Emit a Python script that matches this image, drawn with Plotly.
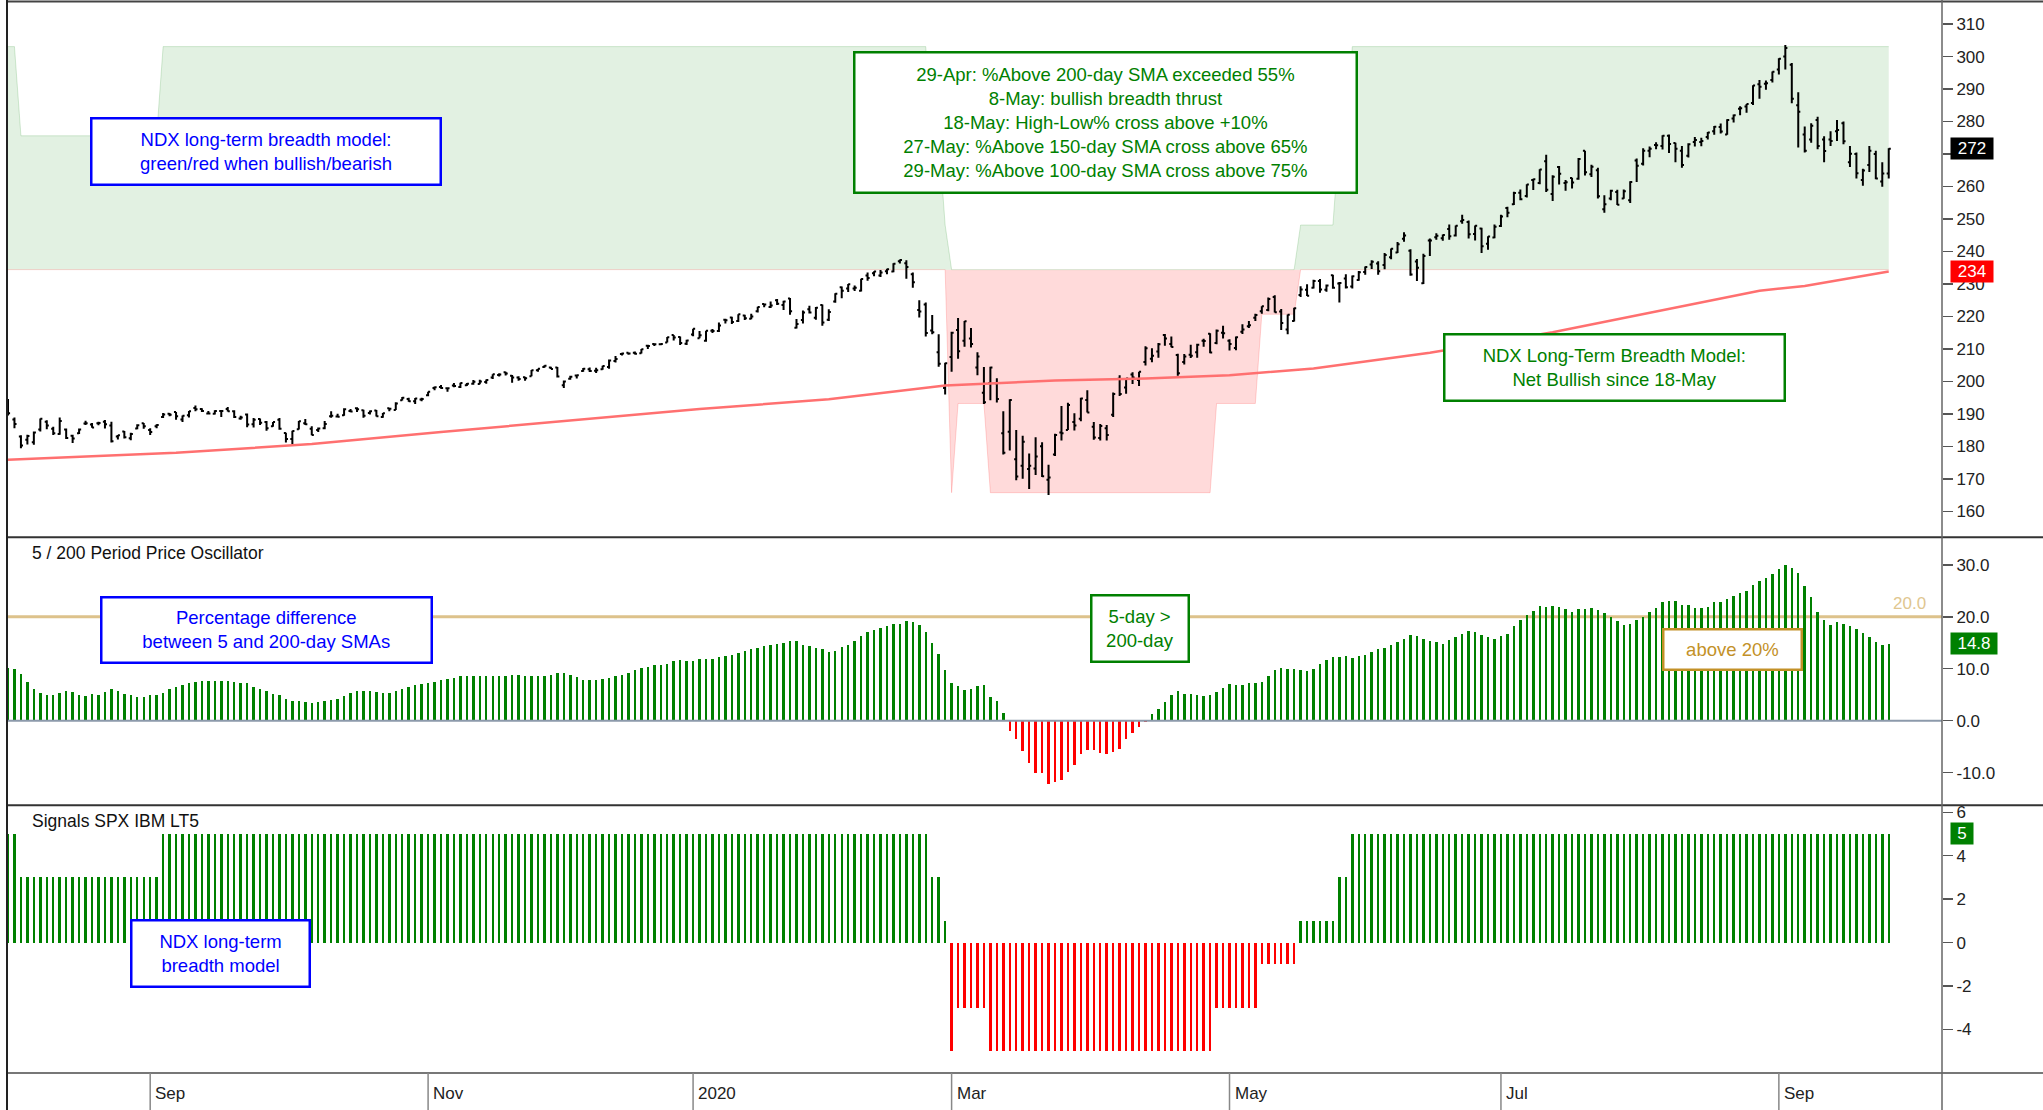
import pandas as pd
import plotly.graph_objects as go

# ---------------- DATA ----------------
START = "2019-08-01"
END = "2020-09-25"
HOLIDAYS = ["2019-09-02", "2019-11-28", "2019-12-25", "2020-01-01", "2020-01-20",
            "2020-02-17", "2020-04-10", "2020-05-25", "2020-07-03", "2020-09-07"]

OPEN = [
    # Aug 2019
    192.0,188.3,183.0,182.0,181.3,185.2,187.6,185.4,183.8,185.2,183.3,184.0,187.0,186.7,187.1,187.6,186.4,183.0,184.6,182.5,185.5,187.1,
    # Sep
    185.0,186.2,189.0,190.0,190.6,188.3,189.6,191.8,191.5,190.1,190.0,190.9,191.5,190.8,188.6,189.8,186.8,188.4,187.5,186.2,
    # Oct
    188.2,184.1,182.3,185.3,187.1,185.4,185.0,185.6,189.3,189.2,189.6,190.9,191.7,191.1,190.3,191.0,189.0,191.7,191.2,194.2,194.6,193.9,194.4,
    # Nov
    195.7,198.0,198.3,197.9,198.7,198.3,198.8,199.3,199.2,199.8,201.2,202.0,202.8,201.7,201.2,201.3,201.6,203.4,204.4,204.3,
    # Dec
    204.3,198.8,200.8,201.8,203.2,203.7,203.3,203.7,204.4,206.3,208.4,208.8,208.8,208.7,211.0,211.5,211.4,212.0,214.3,213.7,211.6,
    # Jan 2020
    214.4,213.3,212.5,215.6,215.5,219.0,219.7,218.6,220.3,219.3,221.6,223.8,222.9,225.0,223.5,225.5,216.5,218.9,222.2,219.6,223.5,
    # Feb
    219.0,224.6,229.0,228.6,228.6,227.9,232.6,233.3,232.6,233.9,233.8,237.0,236.4,233.0,222.0,223.7,215.7,209.0,198.0,
    # Mar
    207.5,215.8,212.5,213.2,204.3,196.5,199.5,199.4,184.0,184.5,176.0,174.0,173.0,173.2,180.0,169.7,177.5,184.3,185.0,187.5,188.5,194.3,
    # Apr
    186.0,182.6,185.6,189.7,200.8,198.1,202.1,200.4,206.0,207.0,209.2,214.3,211.5,208.1,206.0,208.2,209.0,212.5,214.7,211.8,215.0,
    # May
    212.5,210.3,215.3,217.0,219.6,221.6,222.0,226.0,221.5,216.0,218.6,226.6,228.2,228.8,230.9,228.2,232.7,230.1,231.7,229.2,
    # Jun
    231.2,233.7,236.0,236.3,235.8,238.2,239.7,243.9,240.2,236.9,230.2,243.4,244.4,244.1,246.9,244.9,249.3,249.1,245.4,247.1,242.4,244.3,
    # Jul
    247.8,253.4,254.5,258.1,257.1,262.0,261.1,267.8,257.7,266.0,261.1,262.6,262.4,271.0,263.8,265.0,253.0,256.3,258.3,256.3,255.8,268.0,
    # Aug
    267.0,271.0,272.8,272.5,275.6,273.4,271.0,269.5,273.7,273.7,275.2,277.0,278.3,276.0,280.9,283.9,284.6,285.7,291.5,291.6,292.8,
    # Sep
    296.0,300.0,297.5,285.0,276.0,274.5,280.5,274.5,274.5,277.0,279.5,267.5,270.0,262.0,266.6,270.0,261.5,264.0,
]
HIGH = [
    194.6,188.9,183.4,183.6,184.6,188.6,188.0,186.0,188.9,185.5,183.6,185.5,187.9,187.2,187.6,188.1,187.6,183.5,184.7,184.2,186.8,187.2,
    185.6,186.8,190.3,190.3,190.6,189.5,190.9,192.6,191.7,190.9,191.1,191.2,192.1,191.1,189.4,190.1,188.7,188.6,187.8,187.5,
    188.7,184.2,184.8,187.8,188.4,186.2,185.8,187.8,190.8,190.0,191.7,191.5,192.0,191.3,191.0,191.2,190.3,191.8,193.6,195.2,195.0,194.9,195.0,
    196.8,198.4,198.9,198.1,199.5,199.6,199.5,200.4,200.5,200.6,202.2,202.5,203.0,202.0,201.6,201.4,203.5,203.9,205.0,204.5,
    204.4,200.3,201.7,202.1,204.1,204.3,204.2,204.8,206.7,207.8,208.8,208.9,209.2,210.0,211.3,211.6,211.6,213.7,214.3,213.8,212.8,
    216.2,215.5,215.6,216.1,218.1,219.3,219.9,220.7,220.5,220.8,223.0,223.9,224.6,225.4,224.8,225.7,219.2,221.8,223.3,222.9,223.7,
    222.2,227.1,229.2,230.0,229.5,231.6,233.5,233.9,234.3,234.7,236.4,237.5,237.3,233.5,225.0,224.3,220.4,214.5,205.7,
    215.3,219.5,218.6,216.4,209.0,204.4,204.5,201.0,190.8,194.5,185.0,183.3,177.8,182.8,181.3,174.3,183.9,192.4,193.4,190.2,195.0,197.3,
    187.5,186.9,186.6,196.6,201.9,201.0,202.8,203.0,210.8,210.2,211.8,214.6,213.8,208.5,208.4,211.3,211.6,213.1,214.8,216.0,217.1,
    213.0,213.8,217.6,218.6,220.8,223.1,225.8,226.5,222.3,220.6,222.7,229.3,229.9,231.3,231.5,229.8,232.8,230.6,233.0,232.6,
    234.0,235.4,237.3,237.0,239.5,240.9,242.9,245.9,240.7,237.7,239.3,244.0,245.6,245.2,248.3,248.0,251.3,249.5,248.0,247.3,244.7,248.3,
    251.3,253.8,258.4,259.1,260.7,262.4,265.3,269.8,263.5,266.3,262.0,262.7,268.8,271.0,266.7,265.8,257.3,259.0,259.0,259.1,261.6,268.6,
    271.8,272.3,273.6,275.8,276.0,273.5,272.5,273.3,275.2,275.0,276.8,278.6,279.4,280.7,282.2,284.7,285.4,291.2,292.8,292.6,295.4,
    299.5,303.6,298.0,289.0,278.5,279.5,281.5,275.5,277.0,280.5,280.0,272.5,270.5,265.5,272.5,271.0,267.5,271.8,
]
LOW = [
    189.5,185.6,179.4,180.6,180.5,184.6,185.3,183.5,183.6,182.3,181.0,183.8,186.6,185.7,186.5,185.5,181.2,182.1,182.4,181.9,185.3,185.4,
    183.5,185.6,188.7,189.3,188.2,187.5,188.9,190.8,190.6,189.8,189.8,189.0,190.7,188.7,188.2,185.9,185.8,186.6,184.8,186.0,
    185.1,181.2,180.6,185.2,186.6,183.4,184.4,185.3,188.8,188.9,189.4,190.5,190.6,188.8,189.8,189.2,188.8,190.8,191.2,194.1,193.7,193.0,193.9,
    195.4,197.3,197.7,196.8,198.2,198.0,198.6,199.0,199.1,199.3,200.7,201.5,201.8,199.6,200.2,200.2,201.6,203.0,204.2,203.8,
    201.2,198.0,200.5,200.9,203.0,202.9,202.6,203.6,203.9,205.8,208.0,208.2,208.3,208.6,210.0,210.9,211.1,212.0,212.6,211.2,211.2,
    213.9,213.3,212.2,214.9,215.2,217.8,217.7,218.3,218.9,219.1,221.2,222.8,222.6,223.5,222.0,220.5,216.3,217.8,220.9,219.0,217.1,
    218.6,224.2,225.6,227.5,227.8,227.7,231.0,232.4,232.1,233.0,233.6,236.3,231.6,228.8,219.7,213.8,214.5,204.5,196.0,
    203.0,207.0,210.7,210.4,201.9,193.0,194.2,193.5,177.5,178.7,169.6,170.0,166.9,171.2,170.6,165.0,177.0,181.8,185.0,184.9,187.7,190.4,
    182.0,181.8,181.8,189.0,195.5,196.2,199.2,198.6,204.9,205.9,207.3,211.0,210.5,201.7,205.2,207.2,207.3,210.7,208.7,211.4,213.2,
    209.5,209.6,214.6,216.4,218.6,220.8,221.6,221.2,215.8,214.5,218.4,226.0,226.3,228.6,227.3,227.6,228.5,224.3,228.6,228.6,
    231.0,232.8,234.6,232.8,234.5,237.6,239.5,243.0,232.5,230.9,230.0,238.6,243.6,243.3,243.6,244.6,248.5,244.0,243.4,239.5,240.5,244.1,
    247.5,250.5,254.3,255.8,256.6,258.9,260.7,258.3,255.5,260.6,258.7,259.4,262.1,263.4,262.9,256.3,251.9,255.8,254.3,256.2,254.9,261.4,
    266.5,269.0,271.5,271.4,270.3,267.5,265.8,268.9,272.3,272.4,274.5,275.9,276.3,275.9,279.7,281.9,282.7,285.1,287.0,289.8,292.0,
    294.5,296.0,285.6,272.0,270.5,273.5,271.5,267.5,272.5,274.0,273.0,266.0,262.5,260.2,264.5,262.2,259.9,262.5,
]
CLOSE = [
    190.2,186.9,180.3,183.2,184.3,188.5,186.4,184.0,187.8,182.6,182.4,185.2,187.1,185.8,187.2,186.8,181.6,183.4,182.8,183.8,186.5,186.2,
    184.4,186.6,189.8,189.7,189.3,189.4,190.8,191.4,190.9,190.1,190.9,190.9,190.8,189.0,188.9,186.7,188.2,187.3,185.6,187.5,
    185.4,182.3,184.7,187.7,186.8,183.5,185.5,186.9,189.4,189.1,191.4,190.7,191.4,189.4,190.8,189.3,190.2,191.6,193.2,195.0,193.9,194.7,194.6,
    196.8,198.2,198.0,197.9,198.6,199.5,199.3,199.9,200.0,200.4,202.2,202.1,202.4,201.2,200.7,201.0,203.4,203.9,204.8,203.8,
    201.5,200.0,201.4,201.9,203.9,203.2,203.4,204.7,206.4,206.9,208.6,208.6,208.5,209.9,210.9,211.4,211.5,213.6,213.5,211.8,212.6,
    216.2,214.2,215.6,215.5,217.2,218.8,218.3,220.7,219.4,220.0,222.9,223.7,223.4,223.9,224.6,221.6,217.7,221.2,221.2,222.7,218.1,
    221.4,227.0,227.9,229.9,228.8,231.5,231.8,233.8,233.5,234.5,236.2,237.4,235.2,230.5,221.5,214.9,215.1,205.4,205.6,
    215.0,209.3,218.5,211.5,207.7,193.6,204.3,194.6,178.0,194.3,170.7,181.4,174.0,176.9,170.8,170.4,183.5,184.0,192.7,186.4,194.7,190.4,
    182.7,186.3,183.5,196.1,196.1,200.9,201.2,203.0,210.2,207.9,211.4,213.2,210.6,202.5,207.7,207.9,211.3,212.4,208.9,215.6,214.8,
    211.5,213.6,216.0,217.3,220.4,223.1,225.4,221.3,218.0,220.5,222.5,228.3,226.4,230.9,228.3,229.5,228.8,230.3,229.0,232.4,
    233.6,235.2,236.8,233.9,238.9,240.8,242.2,244.9,232.9,235.0,238.6,243.4,244.8,245.1,244.7,247.9,249.7,245.3,247.9,241.6,244.6,247.6,
    250.8,251.9,258.0,256.1,260.6,262.2,265.2,259.0,263.0,263.9,261.3,261.2,268.5,264.4,266.1,257.0,254.5,258.7,254.4,258.5,261.4,266.4,
    271.0,271.6,272.7,275.6,273.1,271.6,266.6,273.0,274.3,274.0,276.6,278.4,276.9,280.5,281.9,284.1,285.4,291.1,290.7,291.8,295.3,
    299.3,302.6,287.0,283.0,271.0,278.7,272.5,270.9,274.0,277.4,273.9,270.1,264.1,264.9,271.0,262.5,264.0,271.6,
]

# 200-day SMA read at selected dates
SMA_DATES = ["2019-08-01", "2019-09-09", "2019-10-08", "2019-11-05", "2020-01-03", "2020-02-03",
             "2020-02-28", "2020-03-24", "2020-04-14", "2020-05-01", "2020-05-20", "2020-06-08",
             "2020-06-16", "2020-07-14", "2020-08-10", "2020-08-27", "2020-09-08", "2020-09-25"]
SMA_VALUES = [175.9, 178.0, 180.7, 184.4, 191.5, 194.5, 198.7, 200.3, 200.9, 201.9, 204.0, 207.2,
              208.8, 215.1, 222.6, 227.9, 229.4, 233.8]

# 5/200 price oscillator (%)
PPO = [
    10.2, 9.9, 9.0, 7.4, 6.1, 5.3, 5.0, 4.9, 5.3, 5.7,
    5.6, 4.9, 4.7, 5.1, 5.0, 5.5, 6.1, 5.7, 5.2, 4.9,
    4.5, 4.5, 4.9, 5.0, 5.4, 6.1, 6.5, 6.8, 7.2, 7.5,
    7.6, 7.6, 7.7, 7.7, 7.7, 7.5, 7.3, 7.2, 6.5, 6.1,
    5.7, 5.2, 4.9, 4.1, 3.7, 3.7, 3.5, 3.4, 3.6, 3.8,
    3.9, 4.1, 4.8, 5.3, 5.7, 5.8, 5.7, 5.5, 5.4, 5.4,
    5.7, 6.1, 6.5, 6.8, 7.0, 7.2, 7.5, 7.8, 8.1, 8.3,
    8.5, 8.5, 8.5, 8.5, 8.6,
    8.5, 8.5, 8.6, 8.8, 8.7, 8.6, 8.5, 8.5, 8.5, 8.8,
    9.1, 9.1, 8.7, 8.4, 7.9, 7.9, 7.9, 8.1, 8.3, 8.6,
    8.7, 9.2, 9.7, 10.1, 10.4, 10.7, 10.8, 11.0, 11.4, 11.6,
    11.5, 11.5, 11.9, 11.9, 11.9, 12.2, 12.5, 12.7, 13.0, 13.5,
    13.8, 14.0, 14.3, 14.6, 14.7, 15.0, 15.4, 15.3, 14.6, 14.3,
    14.0, 13.7, 13.2, 13.5, 14.1, 14.6, 15.3, 16.2, 17.1, 17.4,
    17.9, 18.2, 18.6, 18.7, 19.1, 19.0, 18.5, 17.0, 15.0, 12.8,
    9.8, 7.2, 6.6, 5.9, 6.0, 6.6,
    6.8, 4.5, 3.8, 1.4,
    -1.9, -3.5, -5.9, -8.2, -10.1, -10.1, -12.2, -11.9, -11.4, -9.9, -8.5,
    -6.4, -5.6, -5.7, -6.2, -6.4, -6.0, -5.5, -3.6, -2.3, -1.2, -0.2,
    1.2, 2.3, 3.5, 5.0, 5.8, 5.2, 5.2, 4.9, 4.7, 4.9,
    5.5, 6.3, 7.0, 6.9, 6.8, 7.3, 7.3, 7.5, 8.6, 9.7,
    10.1, 10.0, 9.9, 9.7, 9.6, 10.0, 11.0, 11.6, 12.2, 12.2,
    12.4, 12.1, 12.4, 12.6, 13.2, 13.7, 14.0, 14.6, 15.1, 15.7,
    16.5, 16.3, 15.7, 15.4, 15.2, 14.7, 15.5, 16.1, 16.7, 17.2,
    17.0, 16.5, 16.1, 15.7, 16.3, 16.6, 18.2, 19.4, 20.3, 21.2,
    22.1, 21.9, 22.1, 21.9, 21.5, 20.9, 21.4, 21.5, 21.7, 21.3,
    20.8, 19.9, 19.2, 18.5, 18.6, 19.3, 19.9, 21.0, 21.7, 22.8,
    23.0, 23.0, 22.3, 22.2, 21.7, 21.6, 21.8, 22.8, 22.9, 23.4,
    24.0, 24.6, 25.0, 26.2, 26.9, 27.5, 28.3, 29.2, 29.9, 29.4,
    28.4, 26.0, 23.8, 21.0, 19.4, 18.4, 19.0, 18.6, 18.3, 17.7,
    16.9, 16.1, 15.2, 14.6, 14.8,
]
PPO_THRESHOLD = 20

# Signals SPX IBM LT5 (breadth model score)
SIGNAL = [
    # Aug 2019
    5, 5, 3, 3, 3, 3, 3, 3, 3, 3, 3, 3, 3, 3, 3, 3, 3, 3, 3, 3, 3, 3,
    # Sep
    3, 3, 5, 5, 5, 5, 5, 5, 5, 5, 5, 5, 5, 5, 5, 5, 5, 5, 5, 5,
    # Oct
    5, 5, 5, 5, 5, 5, 5, 5, 5, 5, 5, 5, 5, 5, 5, 5, 5, 5, 5, 5, 5, 5, 5,
    # Nov
    5, 5, 5, 5, 5, 5, 5, 5, 5, 5, 5, 5, 5, 5, 5, 5, 5, 5, 5, 5,
    # Dec
    5, 5, 5, 5, 5, 5, 5, 5, 5, 5, 5, 5, 5, 5, 5, 5, 5, 5, 5, 5, 5,
    # Jan 2020
    5, 5, 5, 5, 5, 5, 5, 5, 5, 5, 5, 5, 5, 5, 5, 5, 5, 5, 5, 5, 5,
    # Feb
    5, 5, 5, 5, 5, 5, 5, 5, 5, 5, 5, 5, 5, 5, 5, 5, 3, 3, 1,
    # Mar
    -5, -3, -3, -3, -3, -3, -5, -5, -5, -5, -5, -5, -5, -5, -5, -5, -5, -5, -5, -5, -5, -5,
    # Apr
    -5, -5, -5, -5, -5, -5, -5, -5, -5, -5, -5, -5, -5, -5, -5, -5, -5, -5, -5, -3, -3,
    # May
    -3, -3, -3, -3, -3, -1, -1, -1, -1, -1, -1, 1, 1, 1, 1, 1, 1, 3, 3, 5,
    # Jun
    5, 5, 5, 5, 5, 5, 5, 5, 5, 5, 5, 5, 5, 5, 5, 5, 5, 5, 5, 5, 5, 5,
    # Jul
    5, 5, 5, 5, 5, 5, 5, 5, 5, 5, 5, 5, 5, 5, 5, 5, 5, 5, 5, 5, 5, 5,
    # Aug
    5, 5, 5, 5, 5, 5, 5, 5, 5, 5, 5, 5, 5, 5, 5, 5, 5, 5, 5, 5, 5,
    # Sep
    5, 5, 5, 5, 5, 5, 5, 5, 5, 5, 5, 5, 5, 5, 5, 5, 5, 5,
]

TICK_MONTHS = ["2019-09", "2019-11", "2020-01", "2020-03", "2020-05", "2020-07", "2020-09"]
TICK_LABELS = ["Sep", "Nov", "2020", "Mar", "May", "Jul", "Sep"]
PRICE_TICKS = [160, 170, 180, 190, 200, 210, 220, 230, 240, 250, 260, 270, 280, 290, 300, 310]
PRICE_TICK_TEXT = ["160", "170", "180", "190", "200", "210", "220", "230", "240", "250",
                   "260", "", "280", "290", "300", "310"]   # 270 hidden under the last-price badge
PPO_TICKS = [-10, 0, 10, 20, 30]
PPO_TICK_TEXT = ["-10.0", "0.0", "10.0", "20.0", "30.0"]
SIG_TICKS = [-4, -2, 0, 2, 4, 6]
SIG_TICK_TEXT = ["-4", "-2", "0", "2", "4", "6"]

# ---------------- BUILD ----------------
dates = pd.bdate_range(START, END)
dates = dates[~dates.isin(pd.to_datetime(HOLIDAYS))]
N = len(dates)
for name, arr in [("OPEN", OPEN), ("HIGH", HIGH), ("LOW", LOW), ("CLOSE", CLOSE),
                  ("PPO", PPO), ("SIGNAL", SIGNAL)]:
    assert len(arr) == N, (name, len(arr), N)
idx = list(range(N))
pos = {d.strftime("%Y-%m-%d"): i for i, d in enumerate(dates)}

FONT = "Liberation Sans, Arial, sans-serif"
FIG_W, FIG_H = 2043, 1110
L, R, T, B = 7, 101, 2, 37
PW = FIG_W - L - R
PH = FIG_H - T - B


def px_x(px):
    return (px - L) / PW


def px_y(py):
    return (FIG_H - B - py) / PH


TOP_SPLIT = px_y(537.3)
MID_SPLIT = px_y(805.3)
X_LEFT = -0.155
X_RIGHT = X_LEFT + PW / 6.463

GREEN = "#008000"
RED = "#FF0000"
BLUE = "#0000FF"
GOLD = "#C39128"

fig = go.Figure()

# breadth model band behind price (overlay scale -6..6)
fig.add_trace(go.Scatter(
    x=idx, y=[s if s > 0 else 0 for s in SIGNAL], yaxis="y", mode="lines",
    line=dict(color="rgba(0,128,0,0.16)", width=1), fill="tozeroy",
    fillcolor="rgba(0,128,0,0.115)", hoverinfo="skip", showlegend=False))
fig.add_trace(go.Scatter(
    x=idx, y=[s if s < 0 else 0 for s in SIGNAL], yaxis="y", mode="lines",
    line=dict(color="rgba(255,0,0,0.16)", width=1), fill="tozeroy",
    fillcolor="rgba(255,0,0,0.145)", hoverinfo="skip", showlegend=False))

# 200-day SMA
fig.add_trace(go.Scatter(
    x=[pos[d] for d in SMA_DATES], y=SMA_VALUES, yaxis="y4", mode="lines",
    line=dict(color="#FF7070", width=2.5), hoverinfo="skip", showlegend=False))

# price bars
fig.add_trace(go.Ohlc(
    x=idx, open=OPEN, high=HIGH, low=LOW, close=CLOSE, yaxis="y4",
    increasing=dict(line=dict(color="#000000", width=2)),
    decreasing=dict(line=dict(color="#000000", width=2)),
    tickwidth=0.32, hoverinfo="skip", showlegend=False))

# oscillator histogram
fig.add_trace(go.Bar(
    x=idx, y=PPO, yaxis="y2", width=0.38,
    marker=dict(color=[GREEN if v >= 0 else RED for v in PPO], line=dict(width=0)),
    hoverinfo="skip", showlegend=False))

# signals histogram
fig.add_trace(go.Bar(
    x=idx, y=SIGNAL, yaxis="y3", width=0.38,
    marker=dict(color=[GREEN if v >= 0 else RED for v in SIGNAL], line=dict(width=0)),
    hoverinfo="skip", showlegend=False))

axis_common = dict(side="right", anchor="x", showgrid=False, zeroline=False,
                   ticks="outside", ticklen=10, tickwidth=1.5, tickcolor="#555",
                   showline=False, automargin=False,
                   tickfont=dict(family=FONT, size=17, color="#222"))

fig.update_layout(
    width=FIG_W, height=FIG_H, template="none",
    paper_bgcolor="white", plot_bgcolor="white",
    margin=dict(l=L, r=R, t=T, b=B, autoexpand=False),
    hovermode=False, showlegend=False, bargap=0,
    xaxis=dict(domain=[0, 1], range=[X_LEFT, X_RIGHT], showticklabels=False,
               ticks="", showgrid=False, zeroline=False, showline=False,
               anchor="y3", rangeslider=dict(visible=False), automargin=False),
    yaxis=dict(domain=[TOP_SPLIT, 1], range=[-6, 6], visible=False, anchor="x",
               fixedrange=True),
    yaxis4=dict(overlaying="y", range=[152.0, 316.8], tickvals=PRICE_TICKS,
                ticktext=PRICE_TICK_TEXT, **axis_common),
    yaxis2=dict(domain=[MID_SPLIT, TOP_SPLIT], range=[-16.3, 35.3],
                tickvals=PPO_TICKS, ticktext=PPO_TICK_TEXT, **axis_common),
    yaxis3=dict(domain=[0, MID_SPLIT], range=[-6, 6.32],
                tickvals=SIG_TICKS, ticktext=SIG_TICK_TEXT, **axis_common),
)

shapes = []
# threshold and zero lines in oscillator panel
shapes.append(dict(type="line", xref="paper", yref="y2", x0=0, x1=1,
                   y0=PPO_THRESHOLD, y1=PPO_THRESHOLD,
                   line=dict(color="#DDC28B", width=3), layer="below"))
shapes.append(dict(type="line", xref="paper", yref="y2", x0=0, x1=1, y0=0, y1=0,
                   line=dict(color="#8C9AAB", width=2), layer="above"))
# panel borders
for py, col in [(1.5, "#444"), (537.3, "#333"), (805.3, "#333"), (1073, "#777")]:
    shapes.append(dict(type="line", xref="paper", yref="paper", x0=0, x1=px_x(FIG_W),
                       y0=px_y(py), y1=px_y(py), line=dict(color=col, width=2),
                       layer="above"))
shapes.append(dict(type="line", xref="paper", yref="paper", x0=0, x1=0,
                   y0=px_y(FIG_H), y1=px_y(0), line=dict(color="#222", width=2),
                   layer="above"))
shapes.append(dict(type="line", xref="paper", yref="paper", x0=1, x1=1,
                   y0=px_y(FIG_H), y1=px_y(0), line=dict(color="#666", width=1.5),
                   layer="above"))

annotations = []
month_pos = []
for m in TICK_MONTHS:
    first = next(i for i, d in enumerate(dates) if d.strftime("%Y-%m") == m)
    month_pos.append(first)
for p, lab in zip(month_pos, TICK_LABELS):
    shapes.append(dict(type="line", xref="x", yref="paper", x0=p, x1=p,
                       y0=px_y(FIG_H), y1=px_y(1073), line=dict(color="#888", width=1.5),
                       layer="above"))
    annotations.append(dict(xref="x", yref="paper", x=p, y=px_y(1093), xanchor="left",
                            yanchor="middle", xshift=3, text=lab, showarrow=False,
                            font=dict(family=FONT, size=17, color="#222")))

# panel titles
annotations.append(dict(xref="paper", yref="paper", x=px_x(30), y=px_y(552.5),
                        xanchor="left", yanchor="middle", showarrow=False,
                        text="5 / 200 Period Price Oscillator",
                        font=dict(family=FONT, size=17.5, color="#111")))
annotations.append(dict(xref="paper", yref="paper", x=px_x(30), y=px_y(820.5),
                        xanchor="left", yanchor="middle", showarrow=False,
                        text="Signals SPX IBM LT5",
                        font=dict(family=FONT, size=17.5, color="#111")))

# threshold label
annotations.append(dict(xref="paper", yref="y2", x=px_x(1928), y=PPO_THRESHOLD,
                        xanchor="right", yanchor="bottom", yshift=2, showarrow=False,
                        text=f"{PPO_THRESHOLD:.1f}",
                        font=dict(family=FONT, size=17, color="#E0C68F")))


def box(cx, cy, w, h, text, color, size=18.5):
    bw = 2.5
    return dict(xref="paper", yref="paper", x=px_x(cx), y=px_y(cy),
                xanchor="center", yanchor="middle", text=text, showarrow=False,
                align="center", font=dict(family=FONT, size=size, color=color),
                bgcolor="white", bordercolor=color, borderwidth=bw, borderpad=0,
                width=w - bw, height=h - bw)


annotations += [
    box(266.2, 151.5, 349.5, 66.8,
        "NDX long-term breadth model:<br>green/red when bullish/bearish", BLUE),
    box(1105.1, 122.6, 502.3, 140.5,
        "29-Apr: %Above 200-day SMA exceeded 55%<br>8-May: bullish breadth thrust<br>"
        "18-May: High-Low% cross above +10%<br>27-May: %Above 150-day SMA cross above 65%<br>"
        "29-May: %Above 100-day SMA cross above 75%", GREEN),
    box(1614.3, 367.3, 340, 66.5,
        "NDX Long-Term Breadth Model:<br>Net Bullish since 18-May", GREEN),
    box(266.7, 630, 330, 65.3,
        "Percentage difference<br>between 5 and 200-day SMAs", BLUE),
    box(1140.3, 628.3, 97.3, 66, "5-day ><br>200-day", GREEN),
    box(1732.5, 649, 138.3, 40, "above 20%", GOLD),
    box(220, 953.7, 178.6, 66, "NDX long-term<br>breadth model", BLUE),
]


def badge(yref, yval, text, bg, w):
    return dict(xref="paper", yref=yref, x=px_x(1949.5), y=yval, xanchor="left",
                yanchor="middle", text=text, showarrow=False, bgcolor=bg,
                borderpad=0, width=w, height=21,
                font=dict(family=FONT, size=17, color="white"))


annotations += [
    badge("y4", CLOSE[-1], f"{CLOSE[-1]:.0f}", "#000000", 42),
    badge("y4", SMA_VALUES[-1], f"{SMA_VALUES[-1]:.0f}", RED, 42),
    badge("y2", PPO[-1], f"{PPO[-1]:.1f}", GREEN, 46),
    badge("y3", SIGNAL[-1], f"{SIGNAL[-1]}", GREEN, 22),
]

fig.update_layout(shapes=shapes, annotations=annotations)
fig.write_html(
    "out.html",
    config={"displayModeBar": False, "staticPlot": True},
    post_script="document.body.style.margin='0';document.body.style.overflow='hidden';",
)
